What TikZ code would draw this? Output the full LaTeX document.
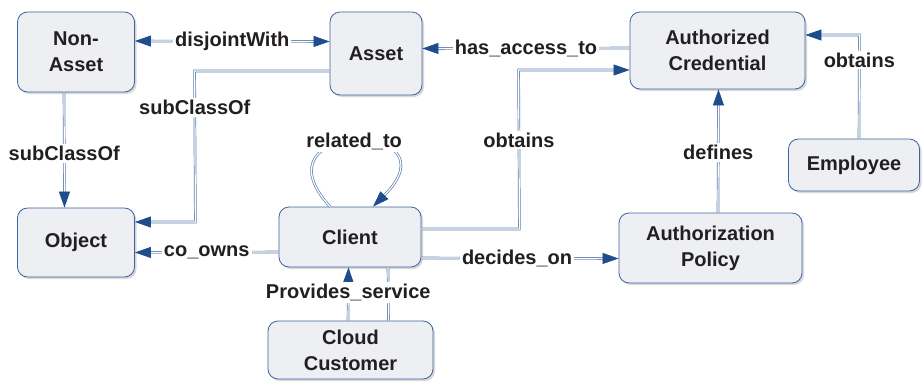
\documentclass[tikz,border=0pt]{standalone}
\usepackage{fontspec}
\setmainfont{Liberation Sans}
\usetikzlibrary{arrows.meta,shadows,calc}
\definecolor{boxfill}{HTML}{EDEFF2}
\definecolor{boxline}{HTML}{3A64A0}
\definecolor{conncol}{HTML}{5E7FAE}
\definecolor{tipcol}{HTML}{1F4C8C}
\definecolor{txt}{HTML}{231F20}
\begin{document}
\begin{tikzpicture}[x=1pt,y=-1pt,
  box/.style={draw=boxline, line width=0.8pt, fill=boxfill, rounded corners=10pt,
    align=center, font=\fontsize{20}{26}\selectfont\bfseries, text=txt,
    drop shadow={shadow xshift=2pt,shadow yshift=-2pt,fill=black!30}, inner sep=0pt},
  conn/.style={draw=conncol, double=white, double distance=1.2pt, line width=0.7pt},
  arrowend/.style={-{Triangle[length=16pt,width=11pt,fill=tipcol,color=tipcol]}},
  arrowboth/.style={{Triangle[length=16pt,width=11pt,fill=tipcol,color=tipcol]}-{Triangle[length=16pt,width=11pt,fill=tipcol,color=tipcol]}},
  lbl/.style={fill=white, inner sep=2pt, font=\fontsize{20}{24}\selectfont\bfseries, text=txt}]
\useasboundingbox (0,0) rectangle (922,381);
% nodes
\node[box, minimum width=117pt, minimum height=80pt] (nonasset) at (76,52) {Non-\\Asset};
\node[box, minimum width=92pt, minimum height=83pt] (asset) at (376,53.5) {Asset};
\node[box, minimum width=175pt, minimum height=77pt] (ac) at (717.5,50.5) {Authorized\\Credential};
\node[box, minimum width=131pt, minimum height=52pt] (employee) at (854,165) {Employee};
\node[box, minimum width=117pt, minimum height=69pt] (object) at (76,242.5) {Object};
\node[box, minimum width=142pt, minimum height=60pt] (client) at (350,237) {Client};
\node[box, minimum width=165pt, minimum height=58pt] (cloud) at (350.5,350) {Cloud\\Customer};
\node[box, minimum width=183pt, minimum height=70pt] (ap) at (710.5,248) {Authorization\\Policy};
% connector end points
\coordinate (d1) at ($(nonasset.east)+(0,-11)$);
\coordinate (d2) at ($(asset.west)+(0,-12)$);
\coordinate (h1) at ($(ac.west)+(0,-2.5)$);
\coordinate (h2) at ($(asset.east)+(0,-5)$);
\coordinate (s1) at ($(asset.west)+(0,17.5)$);
\coordinate (sc1) at ($(asset.west)+(-135,17.5)$);
\coordinate (sc2) at ($(object.east)+(60.5,-20.5)$);
\coordinate (s2) at ($(object.east)+(0,-20.5)$);
\coordinate (n1) at ($(nonasset.south)+(-12,0)$);
\coordinate (n2) at ($(object.north)+(-11.5,0)$);
\coordinate (l1) at ($(client.north)+(-20,0)$);
\coordinate (l2) at ($(client.north)+(23,0)$);
\coordinate (o1) at ($(client.east)+(0,-8)$);
\coordinate (oc1) at ($(client.east)+(98,-8)$);
\coordinate (oc2) at ($(ac.west)+(-111,19.5)$);
\coordinate (o2) at ($(ac.west)+(0,19.5)$);
\coordinate (q1) at ($(client.east)+(0,21)$);
\coordinate (q2) at ($(ap.west)+(0,10.5)$);
\coordinate (c1) at ($(client.west)+(0,15)$);
\coordinate (c2) at ($(object.east)+(0,10)$);
\coordinate (f1) at ($(ap.north)+(7.5,0)$);
\coordinate (f2) at ($(ac.south)+(1,0)$);
\coordinate (e1) at ($(employee.north)+(5,0)$);
\coordinate (ec) at ($(ac.east)+(54,-15.5)$);
\coordinate (e2) at ($(ac.east)+(0,-15.5)$);
\coordinate (r1) at ($(client.south)+(38,0)$);
\coordinate (r2) at ($(cloud.north)+(38,0)$);
\coordinate (p1) at ($(cloud.north)+(-2.5,0)$);
\coordinate (p2) at ($(client.south)+(-1.5,0)$);
% connectors
\draw[conn, arrowboth] (d1) -- node[lbl]{disjointWith} (d2);
\draw[conn, arrowend] (h1) -- node[lbl]{has\_access\_to} (h2);
\draw[conn, arrowend] (s1) -- (sc1) -- node[lbl,pos=0.24]{subClassOf} (sc2) -- (s2);
\draw[conn, arrowend] (n1) -- node[lbl,pos=0.53]{subClassOf} (n2);
\draw[conn, arrowend] (l1) .. controls +(-80,-87) and +(87,-87) .. (l2) node[lbl,pos=0.5]{related\_to};
\draw[conn, arrowend] (o1) -- (oc1) -- node[lbl,pos=0.56]{obtains} (oc2) -- (o2);
\draw[conn, arrowend] (q1) -- node[lbl,pos=0.485]{decides\_on} (q2);
\draw[conn, arrowend] (c1) -- node[lbl]{co\_owns} (c2);
\draw[conn, arrowend] (f1) -- node[lbl,pos=0.49]{defines} (f2);
\draw[conn, arrowend] (e1) -- node[lbl,pos=0.76]{obtains} (ec) -- (e2);
\draw[conn] (r1) -- (r2);
\draw[conn, arrowend] (p1) -- node[lbl,pos=0.52]{Provides\_service} (p2);
\end{tikzpicture}
\end{document}
